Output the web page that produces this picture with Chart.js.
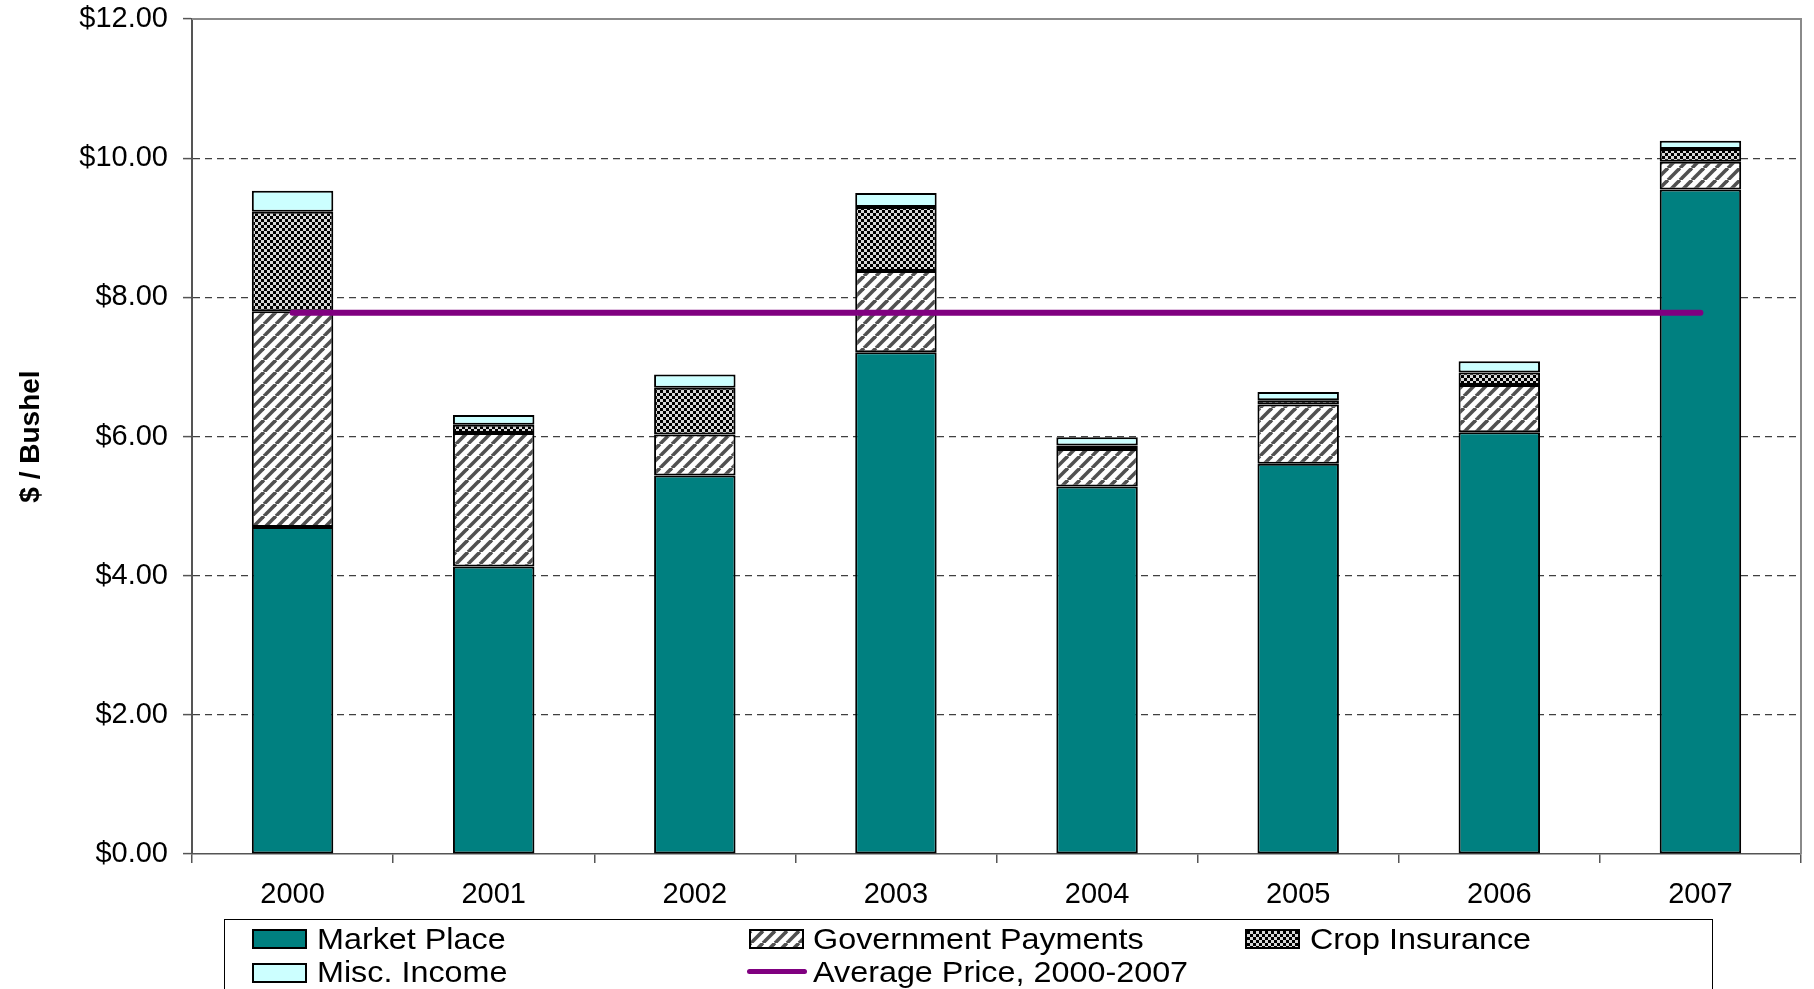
<!DOCTYPE html>
<html>
<head>
<meta charset="utf-8">
<script src="https://cdn.jsdelivr.net/npm/chart.js@4"></script>
<style>
  html, body { margin: 0; padding: 0; background: #fff; overflow: hidden; }
  #wrap { position: relative; width: 1814px; height: 989px; font-family: "Liberation Sans", Arial, sans-serif; }
  #c { position: absolute; left: 0; top: 0; }
  #legend { position: absolute; left: 224px; top: 919px; width: 1489px; height: 120px;
            border: 1.5px solid #000; box-sizing: border-box; }
  .li { position: absolute; font-family: "Liberation Sans", Arial, sans-serif; font-size: 29px; line-height: 34px;
        color: #000; white-space: nowrap; transform: scaleX(1.115); transform-origin: 0 50%; }
  .sw { position: absolute; box-sizing: border-box; border: 2px solid #000; }
  .ln { position: absolute; height: 5px; border-radius: 3px; }
</style>
</head>
<body>
<div id="wrap">
  <canvas id="c" width="1814" height="989"></canvas>
  <div id="legend"></div>
</div>
<script>
// ---- data ----
const years = ['2000', '2001', '2002', '2003', '2004', '2005', '2006', '2007'];
const marketPlace = [4.70, 4.13, 5.44, 7.21, 5.28, 5.61, 6.06, 9.55];
const governmentPayments = [3.10, 1.92, 0.59, 1.17, 0.54, 0.85, 0.68, 0.40];
const cropInsurance = [1.43, 0.12, 0.67, 0.92, 0.05, 0.06, 0.18, 0.18];
const miscIncome = [0.30, 0.14, 0.19, 0.20, 0.12, 0.12, 0.16, 0.12];
const averagePrice = [7.78, 7.78, 7.78, 7.78, 7.78, 7.78, 7.78, 7.78];
const yTicks = [0, 2, 4, 6, 8, 10, 12];

// ---- patterns ----
function makeHatch() {
  const s = 12, c = document.createElement('canvas');
  c.width = s; c.height = s;
  const g = c.getContext('2d');
  g.fillStyle = '#fff'; g.fillRect(0, 0, s, s);
  g.strokeStyle = '#505050'; g.lineWidth = 3.6;
  for (const k of [-s, 0, s]) {
    g.beginPath(); g.moveTo(k, s); g.lineTo(k + s, 0); g.stroke();
  }
  return c;
}
function makeChecker() {
  const s = 6, c = document.createElement('canvas');
  c.width = s; c.height = s;
  const g = c.getContext('2d');
  g.fillStyle = '#d8d8d8'; g.fillRect(0, 0, s, s);
  g.fillStyle = '#000';
  g.fillRect(0, 0, 3, 3); g.fillRect(3, 3, 3, 3);
  return c;
}
const hatchCanvas = makeHatch();
const checkerCanvas = makeChecker();
const ctx = document.getElementById('c').getContext('2d');
const hatch = ctx.createPattern(hatchCanvas, 'repeat');
const checker = ctx.createPattern(checkerCanvas, 'repeat');

const FONT = '"Liberation Sans", Arial, sans-serif';

const framePlugin = {
  id: 'frame',
  beforeDatasetsDraw(chart) {
    const a = chart.chartArea, g = chart.ctx;
    g.save();
    g.strokeStyle = '#8a8a8a'; g.lineWidth = 2;
    g.beginPath();
    g.moveTo(a.left, a.top); g.lineTo(a.right, a.top); g.lineTo(a.right, a.bottom);
    g.stroke();
    g.restore();
  }
};

const barCommon = { borderColor: '#000', borderWidth: 2, borderSkipped: false, order: 1,
  barPercentage: 0.405, categoryPercentage: 1.0, stack: 'bars' };

const chart = new Chart(ctx, {
  data: {
    labels: years,
    datasets: [
      Object.assign({ type: 'bar', label: 'Market Place', data: marketPlace, backgroundColor: '#008080' }, barCommon),
      Object.assign({ type: 'bar', label: 'Government Payments', data: governmentPayments, backgroundColor: hatch }, barCommon),
      Object.assign({ type: 'bar', label: 'Crop Insurance', data: cropInsurance, backgroundColor: checker }, barCommon),
      Object.assign({ type: 'bar', label: 'Misc. Income', data: miscIncome, backgroundColor: '#CCFFFF' }, barCommon),
      { type: 'line', label: 'Average Price, 2000-2007', data: averagePrice, borderColor: '#800080',
        backgroundColor: '#800080', borderWidth: 6, pointRadius: 0, borderCapStyle: 'round',
        fill: false, order: 0, stack: 'avg', tension: 0 }
    ]
  },
  options: {
    responsive: false,
    animation: false,
    devicePixelRatio: 1,
    layout: { padding: { left: 11, top: 19, right: 13, bottom: 0 } },
    plugins: { legend: { display: false }, tooltip: { enabled: false }, title: { display: false } },
    scales: {
      x: {
        type: 'category',
        stacked: true,
        offset: true,
        grid: { offset: true, drawOnChartArea: false, drawTicks: true, tickLength: 9,
                color: '#555', tickColor: '#555', lineWidth: 1.5 },
        border: { display: true, color: '#555', width: 1.5 },
        ticks: { font: { family: FONT, size: 29 }, color: '#000', padding: 15, maxRotation: 0 },
        afterFit(s) { s.height = 135; }
      },
      y: {
        stacked: true,
        min: 0, max: 12,
        afterBuildTicks(s) { s.ticks = yTicks.map(v => ({ value: v })); },
        grid: {
          color: c => (c.tick && (c.tick.value === 0 || c.tick.value === 12)) ? 'rgba(0,0,0,0)' : '#404040',
          lineWidth: 1.2, drawTicks: true, tickLength: 9, tickColor: '#555', tickWidth: 1.5
        },
        border: { display: true, color: '#555', width: 2, dash: [7, 5] },
        ticks: { font: { family: FONT, size: 29 }, color: '#000', padding: 15,
                 callback: v => '$' + Number(v).toFixed(2) },
        title: { display: true, text: '$ / Bushel', color: '#000',
                 font: { family: FONT, size: 28, weight: 'bold' }, padding: { top: 3, bottom: 0 } },
        afterFit(s) { s.width = 181; s.paddingTop = 0; s.paddingBottom = 0; }
      }
    }
  },
  plugins: [framePlugin]
});

// ---- HTML legend built from chart datasets ----
const legendPos = [
  { sw: [252, 929], tx: 317, cy: 939 },   // Market Place
  { sw: [749, 929], tx: 813, cy: 939 },   // Government Payments
  { sw: [1245, 929], tx: 1310, cy: 939 }, // Crop Insurance
  { sw: [252, 963], tx: 317, cy: 972 },   // Misc. Income
  { sw: [747, 969], tx: 813, cy: 972 }    // Average line
];
const wrap = document.getElementById('wrap');
const swatchBg = [
  'background:#008080',
  'background-image:url(' + hatchCanvas.toDataURL() + ')',
  'background-image:url(' + checkerCanvas.toDataURL() + ')',
  'background:#CCFFFF'
];
chart.data.datasets.forEach((ds, i) => {
  const p = legendPos[i];
  let el;
  if (ds.type === 'line') {
    el = document.createElement('div');
    el.className = 'ln';
    el.style.cssText = `left:${p.sw[0]}px;top:${p.sw[1]}px;width:60px;background:${ds.borderColor};`;
  } else {
    el = document.createElement('div');
    el.className = 'sw';
    el.style.cssText = `left:${p.sw[0]}px;top:${p.sw[1]}px;width:55px;height:20px;${swatchBg[i]}`;
  }
  wrap.appendChild(el);
  const t = document.createElement('div');
  t.className = 'li';
  t.style.left = p.tx + 'px';
  t.style.top = (p.cy - 17) + 'px';
  t.textContent = ds.label;
  wrap.appendChild(t);
});
</script>
</body>
</html>
